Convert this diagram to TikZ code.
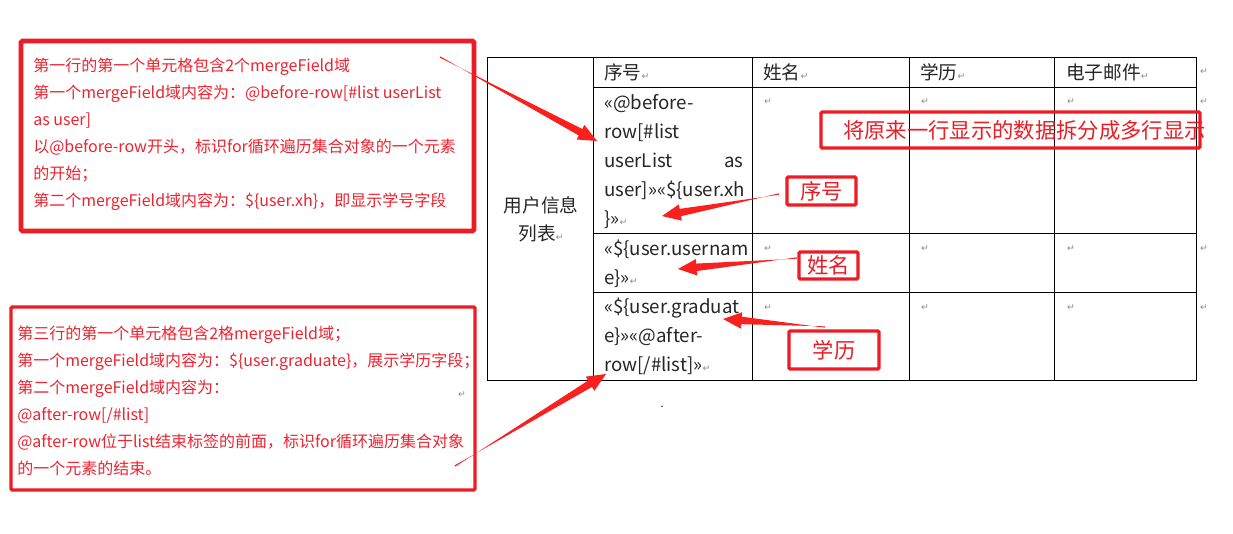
\documentclass[tikz,border=0pt]{standalone}
\usepackage{fontspec}
\setmainfont{Noto Sans CJK SC}
\newfontfamily\symf{DejaVu Sans}
\usetikzlibrary{calc}
\definecolor{boxred}{RGB}{237,28,36}
\definecolor{txtred}{RGB}{236,36,48}
\definecolor{arwred}{RGB}{250,32,30}
\newcommand{\parmk}{{\symf\fontsize{7}{7}\selectfont\color{black!45}↵}}
% tapered arrow from #1 (tail) to #2 (tip)
\newcommand{\arw}[2]{%
  \coordinate (hb) at ($(#2)!14pt!(#1)$);
  \fill[arwred] ($(#1)!0.5pt!90:(#2)$) -- ($(hb)!2.8pt!-90:(#2)$) -- ($(hb)!6.2pt!-90:(#2)$)
    -- (#2) -- ($(hb)!6.2pt!90:(#2)$) -- ($(hb)!2.8pt!90:(#2)$) -- ($(#1)!0.5pt!-90:(#2)$) -- cycle;}
\tikzset{
  tbl/.style={line width=0.75pt},
  cell/.style={anchor=base west, inner sep=0, align=left, text=black!85,
    font=\fontsize{14}{21.75}\selectfont},
  note/.style={anchor=base west, inner sep=0, align=left, text=txtred,
    font=\fontsize{12}{20.25}\selectfont},
  redbox/.style={draw=boxred, line width=2.5pt, rounded corners=1pt, inner sep=0},
  tag/.style={redbox, text=boxred, font=\fontsize{16}{16}\selectfont},
  pmk/.style={inner sep=0}
}
\begin{document}
\begin{tikzpicture}[x=0.75pt,y=-0.75pt]
\fill[white] (0,0) rectangle (1233,533);
\useasboundingbox (0,0) rectangle (1233,533);
%table
\draw[tbl] (487,57) rectangle (1196,380);
\foreach \x in {593,752,909,1054} \draw[tbl] (\x,57) -- (\x,380);
\foreach \y in {87,233,292} \draw[tbl] (593,\y) -- (1196,\y);
\node[cell, anchor=center, align=center, font=\fontsize{14}{21}\selectfont] (title) at (541,219) {用户信息\\列表\parmk};
\node[cell] (hxh) at (604,79) {序号\parmk};
\node[cell] (hname) at (763,79) {姓名\parmk};
\node[cell] (hedu) at (920,79) {学历\parmk};
\node[cell] (hmail) at (1066,79) {电子邮件\parmk};
\node[cell, text width=104.25pt] (xh) at (604,109) {«@before-\\row[\#list\\userList\hfill as\\user]»«\$\{user.xh\\\}»\parmk};
% last line baselines
\node[cell] (uname) at (604,284) {«\$\{user.usernam\\e\}»\parmk};
\node[cell] (grad) at (604,371) {«\$\{user.graduat\\e\}»«@after-\\row[/\#list]»\parmk};
\foreach \y in {102,249,308} {
  \foreach \x in {768,925,1071} \node[pmk] (p\x\y) at (\x,\y) {\parmk};
  \node[pmk] (q\y) at (1204,\y) {\parmk};
}
\node[pmk] (q72) at (1204,72) {\parmk};
%notes
\node[redbox, line width=3.5pt, minimum width=339.75pt, minimum height=142.5pt] (noteA) at (247.5,136) {};
\node[note] (txtA) at (33,206) {第一行的第一个单元格包含2个mergeField域\\
第一个mergeField域内容为：@before-row[\#list userList\\
as user]\\
以@before-row开头，标识for循环遍历集合对象的一个元素\\
的开始；\\
第二个mergeField域内容为：\$\{user.xh\}，即显示学号字段};
\node[redbox, minimum width=348pt, minimum height=137.25pt] (noteB) at (243,398.5) {};
\node[note] (txtB) at (17,474) {第三行的第一个单元格包含2格mergeField域；\\
第一个mergeField域内容为：\$\{user.graduate\}，展示学历字段；\\
第二个mergeField域内容为：\\
@after-row[/\#list]\\
@after-row位于list结束标签的前面，标识for循环遍历集合对象\\
的一个元素的结束。};
\node[pmk] (pB) at (462,395) {\parmk};
\node[inner sep=0, font=\fontsize{8}{8}\selectfont] (dot) at (662,407) {.};
%tags
\node[redbox, minimum width=284.25pt, minimum height=27pt] (split) at (1010.5,130) {};
\node[anchor=west, inner sep=0, text=boxred, font=\fontsize{16}{16}\selectfont] (splittxt) at (843,130) {将原来一行显示的数据拆分成多行显示};
\node[tag, minimum width=51.75pt, minimum height=21pt] (txh) at (821.5,191) {序号};
\node[tag, minimum width=44.25pt, minimum height=20.25pt] (tname) at (828.5,265.5) {姓名};
\node[tag, minimum width=67.5pt, minimum height=28.5pt] (tedu) at (834,350) {学历};
%arrows
\coordinate (a1) at (440,57);  \coordinate (b1) at (597,141);
\coordinate (a2) at (455,466); \coordinate (b2) at (606,374);
\coordinate (a3) at (779,194); \coordinate (b3) at (662,216);
\coordinate (a4) at (797,258); \coordinate (b4) at (678,269);
\coordinate (a5) at (825,327); \coordinate (b5) at (723,319);
\arw{a1}{b1}
\arw{a2}{b2}
\arw{a3}{b3}
\arw{a4}{b4}
\arw{a5}{b5}
\end{tikzpicture}
\end{document}
